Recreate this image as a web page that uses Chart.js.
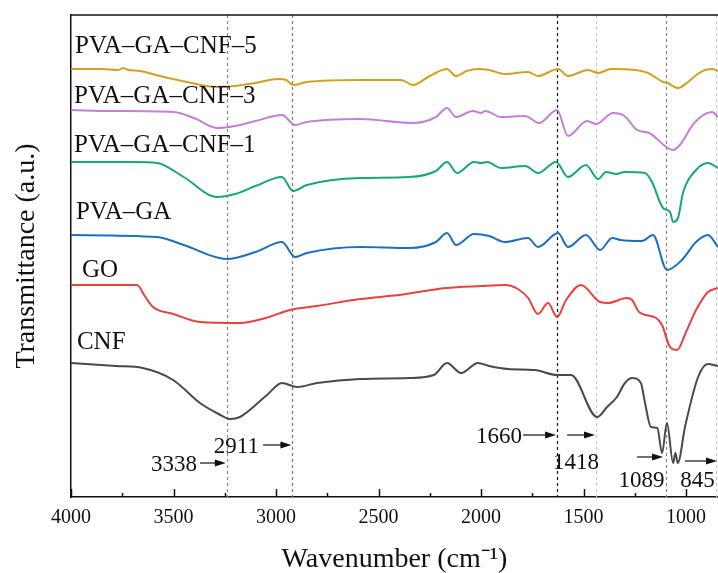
<!DOCTYPE html>
<html>
<head>
<meta charset="utf-8">
<script src="https://cdn.jsdelivr.net/npm/chart.js@4/dist/chart.umd.min.js"></script>
<style>
  html, body { margin: 0; padding: 0; background: #fff; }
  canvas { display: block; }
</style>
</head>
<body>
<canvas id="ftir" width="718" height="573"></canvas>
<script>
// series names, bottom to top
const names = ['CNF', 'GO', 'PVA–GA', 'PVA–GA–CNF–1', 'PVA–GA–CNF–3', 'PVA–GA–CNF–5'];

// wavenumber (cm-1) and offset transmittance (a.u.)
const cnfWn = [4000, 3780, 3650, 3502, 3371, 3280, 3224, 3176, 3044, 2971, 2898, 2800, 2590, 2350, 2230, 2166, 2097, 2015, 1960, 1868, 1737, 1629, 1561, 1434, 1385, 1337, 1298, 1263, 1220, 1200, 1171, 1140, 1117, 1093, 1063, 1052, 1040, 1005, 941, 893, 844];
const cnfT  = [134, 131, 129, 117, 94, 83, 78, 80, 102, 114, 110, 114, 118, 119, 122, 134, 124, 134, 131, 128, 127, 122, 122, 80, 90, 100, 114, 119, 114, 94, 70, 69, 44, 74, 34, 44, 34, 70, 120, 133, 131];

const goWn = [4000, 3678, 3640, 3600, 3500, 3371, 3176, 3050, 2932, 2800, 2590, 2400, 2171, 2000, 1883, 1820, 1770, 1722, 1673, 1629, 1585, 1512, 1420, 1380, 1290, 1263, 1229, 1146, 1117, 1078, 1044, 1000, 951, 893, 844];
const goT  = [212, 212, 201, 190, 183, 175, 174, 179, 187, 191, 198, 202, 209, 211, 212, 208, 199, 183, 194, 180, 197, 212, 195, 194, 199, 197, 185, 179, 172, 150, 147, 165, 187, 205, 209];

const pvaWn = [4000, 3580, 3450, 3239, 3100, 2971, 2907, 2850, 2590, 2350, 2220, 2166, 2122, 2034, 1960, 1883, 1771, 1722, 1624, 1576, 1488, 1419, 1360, 1320, 1215, 1161, 1093, 1020, 951, 893, 844];
const pvaT  = [262, 260, 252, 238, 245, 255, 240, 244, 250, 249, 255, 264, 252, 263, 261, 255, 259, 250, 264, 250, 262, 247, 259, 257, 256, 262, 227, 237, 255, 262, 250];

const cnf1Wn = [4000, 3700, 3580, 3450, 3288, 3200, 3100, 2971, 2917, 2850, 2590, 2350, 2220, 2166, 2117, 2034, 2000, 1970, 1902, 1785, 1722, 1634, 1576, 1488, 1429, 1390, 1340, 1300, 1200, 1166, 1112, 1078, 1063, 1039, 1015, 951, 893, 844];
const cnf1T  = [335, 335, 334, 320, 300, 303, 311, 320, 306, 312, 319, 320, 326, 335, 324, 335, 334, 335, 329, 331, 324, 335, 320, 332, 318, 325, 323, 325, 324, 315, 289, 285, 275, 279, 304, 327, 334, 329];

const cnf3Wn = [4000, 3800, 3500, 3400, 3288, 3200, 3100, 2971, 2907, 2850, 2590, 2332, 2220, 2166, 2122, 2039, 2000, 1980, 1902, 1785, 1717, 1629, 1576, 1483, 1439, 1356, 1300, 1239, 1180, 1063, 1030, 960, 873, 844];
const cnf3T  = [387, 386, 385, 379, 369, 371, 376, 382, 372, 375, 378, 374, 380, 389, 380, 386, 384, 386, 380, 381, 374, 387, 361, 376, 373, 384, 381, 367, 364, 347, 352, 374, 385, 380];

const cnf5Wn = [4000, 3850, 3770, 3746, 3720, 3663, 3566, 3434, 3288, 3200, 3100, 2990, 2950, 2917, 2850, 2590, 2390, 2332, 2250, 2166, 2122, 2070, 2015, 1960, 1883, 1771, 1722, 1624, 1576, 1478, 1429, 1366, 1250, 1185, 1112, 1090, 1039, 990, 950, 907, 873, 844];
const cnf5T  = [428, 428, 427, 429, 427, 426, 421, 415, 410, 411, 414, 418, 417, 412, 415, 417, 417, 412, 421, 428, 421, 426, 428, 427, 423, 425, 421, 428, 421, 427, 424, 428, 427, 424, 415, 414, 409, 415, 422, 427, 428, 426];

// x axis ticks, labelled every 500
const xTicks = [4000, 3750, 3500, 3250, 3000, 2750, 2500, 2250, 2000, 1750, 1500, 1250, 1000];

// dashed marker lines and their labels
const peakLines = [3240, 2920, 1629, 1439, 1097, 853];
const peakLabels = ['3338', '2911', '1660', '1418', '1089', '845'];

const wnSets = [cnfWn, goWn, pvaWn, cnf1Wn, cnf3Wn, cnf5Wn];
const tSets = [cnfT, goT, pvaT, cnf1T, cnf3T, cnf5T];
const colors = ['#4a4a4a', '#e8423f', '#1a6fc0', '#18a874', '#c57fd6', '#d4a11f'];
const peakColors = ['#8c8c8c', '#7a7a7a', '#151515', '#c6c6c6', '#888888', '#c6c6c6'];

const serif = '"Liberation Serif", "Times New Roman", serif';

// where the curve names sit (wavenumber, a.u.)
const nameAt = [[3971, 155], [3946, 227], [3976, 285], [3985, 352], [3985, 401], [3980, 451]];

function arrow(ctx, x1, x2, y) {
    ctx.beginPath();
    ctx.moveTo(x1, y);
    ctx.lineTo(x2 - 8, y);
    ctx.stroke();
    ctx.beginPath();
    ctx.moveTo(x2, y);
    ctx.lineTo(x2 - 11, y - 3.5);
    ctx.lineTo(x2 - 11, y + 3.5);
    ctx.closePath();
    ctx.fill();
}

const ftirDecor = {
    id: 'ftirDecor',
    beforeDatasetsDraw(chart) {
        const {ctx, chartArea: a, scales: {x}} = chart;
        ctx.save();
        ctx.lineWidth = 1.2;
        ctx.setLineDash([3, 3]);
        peakLines.forEach((wn, i) => {
            const px = Math.round(x.getPixelForValue(wn)) + 0.5;
            ctx.strokeStyle = peakColors[i];
            ctx.beginPath();
            ctx.moveTo(px, a.top);
            ctx.lineTo(px, a.bottom);
            ctx.stroke();
        });
        ctx.restore();
    },
    afterDraw(chart) {
        const {ctx, chartArea: a, scales: {x, y}} = chart;
        ctx.save();
        // top frame line
        ctx.strokeStyle = '#111';
        ctx.lineWidth = 1.5;
        ctx.beginPath();
        ctx.moveTo(a.left, a.top);
        ctx.lineTo(a.right, a.top);
        ctx.stroke();
        // inward ticks
        xTicks.forEach(v => {
            const px = Math.round(x.getPixelForValue(v)) + 0.5;
            const len = v % 500 === 0 ? 8 : 4;
            ctx.beginPath();
            ctx.moveTo(px, a.bottom);
            ctx.lineTo(px, a.bottom - len);
            ctx.stroke();
        });

        // curve names
        ctx.fillStyle = '#111';
        ctx.font = '25px ' + serif;
        ctx.textBaseline = 'middle';
        ctx.textAlign = 'left';
        names.forEach((n, i) => {
            ctx.fillText(n, x.getPixelForValue(nameAt[i][0]), y.getPixelForValue(nameAt[i][1]));
        });

        // peak annotations
        ctx.font = '23px ' + serif;
        ctx.lineWidth = 1.2;
        const X = v => x.getPixelForValue(v);
        const Y = v => y.getPixelForValue(v);

        ctx.textAlign = 'right';
        ctx.fillText(peakLabels[0], X(3385), Y(32));
        arrow(ctx, X(3371), X(3240) - 1, Y(34));
        ctx.fillText(peakLabels[1], X(3083), Y(50));
        arrow(ctx, X(3063), X(2920) - 1, Y(52));
        ctx.fillText(peakLabels[2], X(1800), Y(60));
        arrow(ctx, X(1795), X(1629) - 1, Y(62));
        arrow(ctx, X(1580), X(1439) - 1, Y(62));

        ctx.textAlign = 'center';
        ctx.fillText(peakLabels[3], X(1537), Y(34));
        ctx.fillText(peakLabels[4], X(1217), Y(16));
        arrow(ctx, X(1239), X(1112), Y(40));
        ctx.fillText(peakLabels[5], X(944), Y(16));
        arrow(ctx, X(1005), X(849), Y(36));
        ctx.restore();
    }
};

new Chart(document.getElementById('ftir').getContext('2d'), {
    type: 'line',
    data: {
        datasets: names.map((n, i) => ({
            label: n,
            data: wnSets[i].map((w, j) => ({x: w, y: tSets[i][j]})),
            borderColor: colors[i],
            borderWidth: 2,
            pointRadius: 0,
            fill: false,
            cubicInterpolationMode: 'monotone'
        }))
    },
    options: {
        responsive: false,
        animation: false,
        devicePixelRatio: 1,
        layout: {padding: {top: 15, right: 0, bottom: 0, left: 0}},
        plugins: {legend: {display: false}, tooltip: {enabled: false}},
        scales: {
            x: {
                type: 'linear',
                reverse: true,
                min: 844,
                max: 4000,
                afterBuildTicks: s => { s.ticks = xTicks.map(v => ({value: v})); },
                afterFit: s => { s.height = 76; },
                grid: {display: false, drawTicks: false},
                border: {display: true, color: '#111', width: 1.5},
                ticks: {
                    autoSkip: false,
                    maxRotation: 0,
                    padding: 9,
                    color: '#111',
                    font: {family: serif, size: 20},
                    callback: v => (v % 500 === 0 ? String(v) : '')
                },
                title: {
                    display: true,
                    text: 'Wavenumber (cm⁻¹)',
                    color: '#111',
                    font: {family: serif, size: 28, lineHeight: 0.92},
                    padding: 0
                }
            },
            y: {
                min: 0,
                max: 482,
                afterFit: s => { s.width = 71; },
                grid: {display: false, drawTicks: false},
                border: {display: true, color: '#111', width: 1.5},
                ticks: {display: false},
                title: {
                    display: true,
                    text: 'Transmittance (a.u.)',
                    color: '#111',
                    font: {family: serif, size: 28, lineHeight: 1},
                    padding: {top: 13, bottom: 0}
                }
            }
        }
    },
    plugins: [ftirDecor]
});
</script>
</body>
</html>
